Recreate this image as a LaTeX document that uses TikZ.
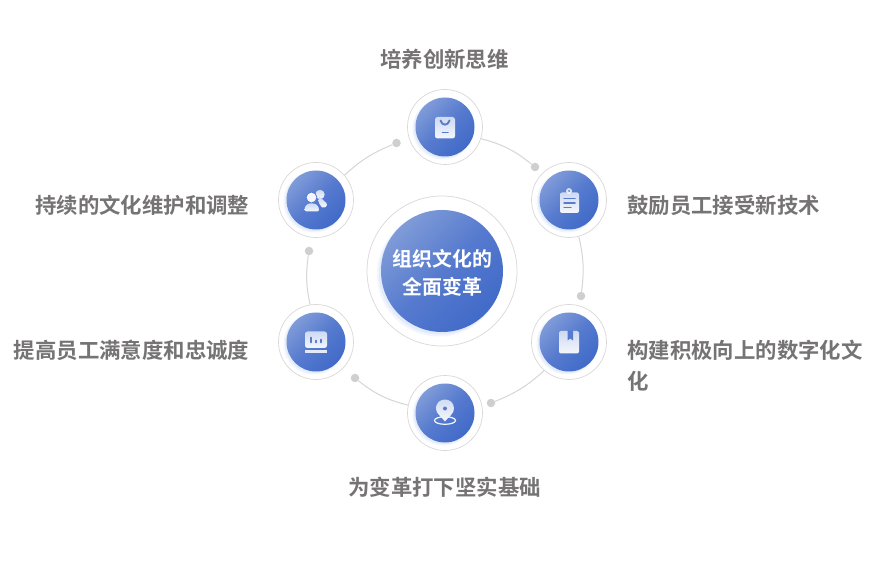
\documentclass[tikz,border=0pt]{standalone}
\usepackage{fontspec}
\newfontfamily\cjk{Noto Sans CJK SC}[BoldFont={Noto Sans CJK SC Bold}]
\usetikzlibrary{shadings}
\definecolor{ringc}{HTML}{DAD8D6}
\definecolor{linkc}{HTML}{D6D6D6}
\definecolor{dotc}{HTML}{CFCFCF}
\definecolor{txtc}{HTML}{757373}
\definecolor{lightb}{HTML}{7F9BD8}
\definecolor{darkb}{HTML}{416BC9}
\definecolor{midb}{HTML}{567ACE}
\definecolor{markb}{HTML}{5A7BCB}
\definecolor{glowc}{HTML}{E3EBFB}
\definecolor{glowd}{HTML}{F1F5FD}
\definecolor{icont}{HTML}{F4F6FC}
\definecolor{iconb}{HTML}{CEDAF2}
\tikzset{
  x=1pt,y=-1pt,
  ringsmall/.style={circle,draw=ringc,line width=.7pt,fill=white,minimum size=75pt,inner sep=0pt},
  ringbig/.style={circle,draw=ringc,line width=.7pt,fill=white,minimum size=150pt,inner sep=0pt},
  glowsmall/.style={circle,fill=glowc,minimum size=59pt,inner sep=0pt},
  glowbig/.style={circle,fill=glowc,minimum size=122pt,inner sep=0pt},
  halosmall/.style={circle,fill=glowd,minimum size=61pt,inner sep=0pt},
  halobig/.style={circle,fill=glowd,minimum size=124pt,inner sep=0pt},
  discsmall/.style={circle,minimum size=59pt,inner sep=0pt,left color=lightb,right color=darkb,shading angle=45,middle color=midb},
  discbig/.style={circle,minimum size=122pt,inner sep=0pt,left color=lightb,right color=darkb,shading angle=45,middle color=midb},
  dotnode/.style={circle,fill=dotc,minimum size=8.5pt,inner sep=0pt},
  link/.style={draw=linkc,line width=1pt},
  lab/.style={font=\cjk\bfseries\fontsize{21.4}{31}\selectfont,text=txtc,inner sep=0pt},
  centertxt/.style={font=\cjk\bfseries\fontsize{19.9}{28}\selectfont,text=white,align=center,inner sep=0pt},
  iconshape/.style={bottom color=icont,top color=iconb,draw=none},
  iconmark/.style={draw=markb,line width=1.9pt,line cap=round},
}
\begin{document}
\begin{tikzpicture}
\useasboundingbox (0,0) rectangle (892,569);
\fill[white] (0,0) rectangle (892,569);
% outer rings
\node[ringbig] (cring) at (442,271) {};
\node[ringsmall] (ntop) at (445,127) {};
\node[ringsmall] (nru) at (569,200) {};
\node[ringsmall] (nrl) at (569,342) {};
\node[ringsmall] (nbot) at (445,413) {};
\node[ringsmall] (nll) at (316,342) {};
\node[ringsmall] (nlu) at (316,200) {};
% dots
\node[dotnode] (d1) at (535,167) {};
\node[dotnode] (d2) at (581,296) {};
\node[dotnode] (d3) at (491,403) {};
\node[dotnode] (d4) at (355,378) {};
\node[dotnode] (d5) at (309,251) {};
\node[dotnode] (d6) at (396.5,143) {};
% connectors
\draw[link] (ntop.-18) to[bend left=12] (d1);
\draw[link] (nru.-75) to[bend left=10] (d2);
\draw[link] (nrl.229) to[bend left=10] (d3);
\draw[link] (nbot.168) to[bend left=12] (d4);
\draw[link] (nll.99) to[bend left=10] (d5);
\draw[link] (nlu.41) to[bend left=10] (d6);
% discs
\node[halobig] (chalo) at (439,274.5) {};
\node[glowbig] (cglow) at (440,273.5) {};
\node[discbig] (cdisc) at (442,271) {};
\foreach \n/\px/\py in {1/445/127,2/569/200,3/569/342,4/445/413,5/316/342,6/316/200}{
  \node[halosmall] (h\n) at (\px-2,\py+2) {};
  \node[glowsmall] (g\n) at (\px-1.5,\py+1.5) {};
}
\node[discsmall] (dtop) at (ntop) {};
\node[discsmall] (dru) at (nru) {};
\node[discsmall] (drl) at (nrl) {};
\node[discsmall] (dbot) at (nbot) {};
\node[discsmall] (dll) at (nll) {};
\node[discsmall] (dlu) at (nlu) {};
% centre text
\node[centertxt] (ctext) at (442.5,273) {组织文化的\\全面变革};
% labels
\node[lab,anchor=center] (ltop) at (444.5,59.5) {培养创新思维};
\node[lab,anchor=west] (lru) at (627,205.5) {鼓励员工接受新技术};
\node[lab,anchor=north west,align=left,text width=240pt] (lrl) at (627,340) {构建积极向上的数字化文\\化};
\node[lab,anchor=center] (lbot) at (444.5,487) {为变革打下坚实基础};
\node[lab,anchor=east] (lll) at (249.5,350) {提高员工满意度和忠诚度};
\node[lab,anchor=east] (llu) at (249.5,205.5) {持续的文化维护和调整};
% icon: bag
\path[iconshape,rounded corners=2.5pt] (435,117) rectangle (455,138.5);
\draw[iconmark] (440.5,120.5) .. controls (442,126) and (448,126) .. (449.5,120.5);
\draw[iconmark] (442.5,132.5) -- (448,132.5);
% icon: clipboard
\path[iconshape,rounded corners=2pt] (560,192.5) rectangle (579,213);
\path[iconshape] (569,191) circle (3pt);
\fill[markb] (569,191) circle (1pt);
\draw[iconmark,line width=1.5pt] (564,198.5) -- (575,198.5);
\draw[iconmark,line width=1.5pt] (564,203) -- (575,203);
\draw[iconmark,line width=1.5pt] (564,207.5) -- (571,207.5);
% icon: book
\path[iconshape,rounded corners=2pt] (559,331) -- (579,331) -- (579,353.5) -- (559,353.5) -- cycle;
\fill[midb] (567.5,330.5) -- (573,330.5) -- (573,340.5) -- (570.2,338.5) -- (567.5,340.5) -- cycle;
% icon: pin
\draw[draw=icont,line width=1.2pt] (445,420.5) ellipse (10.5pt and 3.8pt);
\path[iconshape] (445,421.5) .. controls (441,416) and (436,414) .. (436,408.5) .. controls (436,396.5) and (454,396.5) .. (454,408.5) .. controls (454,414) and (449,416) .. (445,421.5) -- cycle;
\fill[markb] (445,408.5) circle (2pt);
% icon: chart
\path[iconshape,rounded corners=2.5pt] (305,331.5) rectangle (327,348);
\draw[iconmark] (311,337.5) -- (311,342.5);
\draw[iconmark] (316,340.5) -- (316,342.5);
\draw[iconmark] (321,339.5) -- (321,342.5);
\fill[iconb!60!white] (305,350.5) rectangle (327,353);
% icon: people
\path[iconshape] (320,194.5) circle (4.7pt);
\path[iconshape] (319,197) -- (322,199) .. controls (323,201) and (327,202) .. (327,205) .. controls (327,207.5) and (325,207.5) .. (322,207.5) -- (319.5,204) .. controls (318,202) and (318,200) .. (319,197) -- cycle;
\draw[draw=midb,line width=.8pt,fill=icont] (311.5,197.5) circle (5.4pt);
\path[iconshape,rounded corners=1.5pt] (304.5,211.5) .. controls (304.5,205.5) and (308,203.5) .. (311.5,203.5) .. controls (315.5,203.5) and (319,205.5) .. (319,211.5) -- cycle;
\end{tikzpicture}
\end{document}
